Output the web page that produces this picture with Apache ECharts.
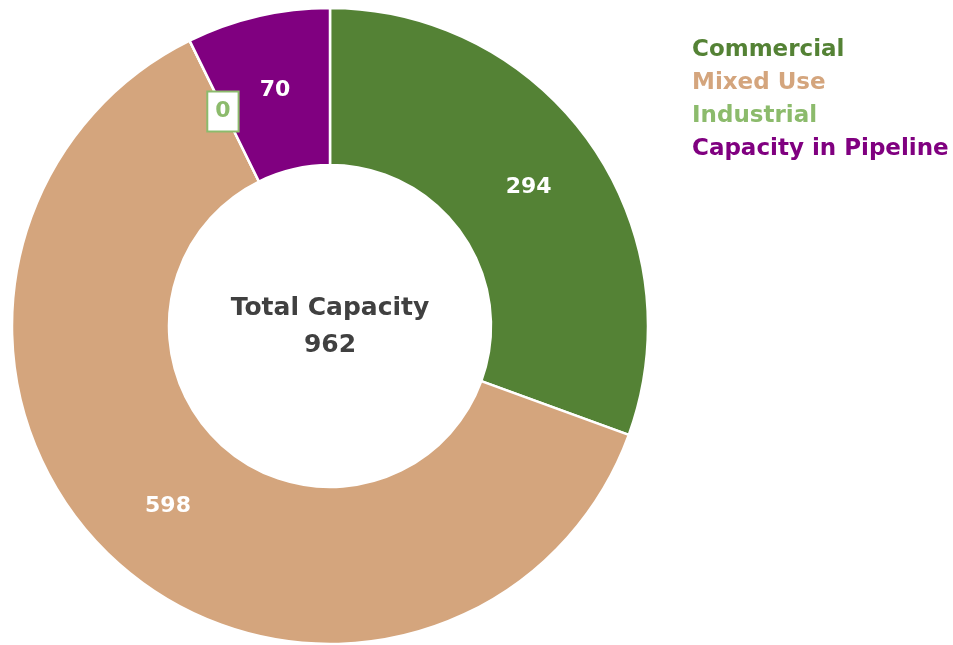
<!DOCTYPE html>
<html><head><meta charset="utf-8">
<script src="https://cdn.jsdelivr.net/npm/echarts@6/dist/echarts.min.js"></script>
<style>html,body{margin:0;padding:0;background:#fff}#c{width:953px;height:645px}</style>
</head><body><div id="c"></div>
<script>
const categories = ['Commercial', 'Mixed Use', 'Industrial', 'Capacity in Pipeline'];
const values = [294, 598, 0, 70];
const colors = ['#548235', '#D4A57D', '#8CBB6C', '#800080'];
const centerTitle = 'Total Capacity';
const total = values.reduce((a, b) => a + b, 0);

const FONT = 'DejaVu Sans';
const chart = echarts.init(document.getElementById('c'));
const data = categories.map((name, i) => {
  const d = { name, value: values[i], itemStyle: { color: colors[i] } };
  if (values[i] === 0) {
    d.label = {
      color: colors[i], backgroundColor: '#fff', borderColor: colors[i], borderWidth: 2,
      padding: [9, 7, 7, 7], offset: [0, 3]
    };
  }
  return d;
});
chart.setOption({
  animation: false,
  legend: {
    orient: 'vertical', left: 682, top: 34, icon: 'none', itemWidth: 0, itemHeight: 22, itemGap: 10,
    selectedMode: false,
    data: categories.map((name, i) => ({ name, textStyle: { color: colors[i], fontFamily: FONT, fontWeight: 'bold', fontSize: 23 } }))
  },
  graphic: [{
    type: 'text', x: 330, y: 327,
    style: {
      text: centerTitle + '\n' + total, textAlign: 'center', textVerticalAlign: 'middle',
      fill: '#404040', font: 'bold 25px "' + FONT + '"', lineHeight: 37
    }
  }],
  series: [{
    type: 'pie', center: [330, 326], radius: [161, 318], startAngle: 90, clockwise: true,
    avoidLabelOverlap: false, minShowLabelAngle: 0,
    itemStyle: { borderColor: '#fff', borderWidth: 2.5 },
    label: { show: true, position: 'inside', color: '#fff', fontFamily: FONT, fontWeight: 'bold', fontSize: 22, formatter: '{c}' },
    labelLine: { show: false },
    emphasis: { disabled: true },
    data
  }]
});
</script></body></html>
